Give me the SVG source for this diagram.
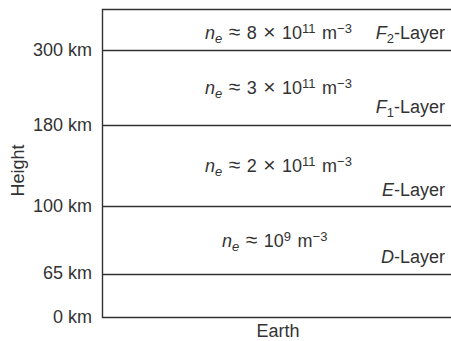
<svg xmlns="http://www.w3.org/2000/svg" width="451" height="341" viewBox="0 0 451 341">
<style>
text{font-family:"Liberation Sans",Arial,sans-serif;font-size:18px;fill:#333}
.tick{text-anchor:end}
.layer{text-anchor:end}
.i{font-style:italic}
.s{font-size:13px}
.op{font-size:21px}
.ne{word-spacing:1.5px}
.ln{stroke:#333;stroke-width:1.4;fill:none}
</style>
<rect width="451" height="341" fill="#fff"/>
<g id="axes">
<path class="ln" d="M451 9.5H102.5V317.5H451"/>
<text x="278" y="337" text-anchor="middle">Earth</text>
<text transform="translate(24,170.5) rotate(-90)" text-anchor="middle">Height</text>
</g>
<g id="boundaries">
<line class="ln" x1="102" y1="50.5" x2="451" y2="50.5" stroke-width="2"/>
<line class="ln" x1="102" y1="125.5" x2="451" y2="125.5"/>
<line class="ln" x1="102" y1="206.5" x2="451" y2="206.5"/>
<line class="ln" x1="102" y1="274.5" x2="451" y2="274.5"/>
</g>
<g id="ticks">
<text class="tick" x="92" y="56">300 km</text>
<text class="tick" x="92" y="131">180 km</text>
<text class="tick" x="92" y="212">100 km</text>
<text class="tick" x="92" y="279">65 km</text>
<text class="tick" x="92" y="323">0 km</text>
</g>
<g id="F2-layer">
<text class="ne" x="205" y="39"><tspan class="i">n</tspan><tspan class="i s" dy="4">e</tspan><tspan dy="-4"> </tspan><tspan class="op">≈</tspan> 8 <tspan class="op">×</tspan> 10<tspan class="s" dy="-6">11</tspan><tspan dy="6"> m</tspan><tspan class="s" dy="-6">−3</tspan></text>
<text class="layer" x="445" y="39"><tspan class="i">F</tspan><tspan class="s" dy="4">2</tspan><tspan dy="-4">-Layer</tspan></text>
</g>
<g id="F1-layer">
<text class="ne" x="205" y="94"><tspan class="i">n</tspan><tspan class="i s" dy="4">e</tspan><tspan dy="-4"> </tspan><tspan class="op">≈</tspan> 3 <tspan class="op">×</tspan> 10<tspan class="s" dy="-6">11</tspan><tspan dy="6"> m</tspan><tspan class="s" dy="-6">−3</tspan></text>
<text class="layer" x="445" y="113"><tspan class="i">F</tspan><tspan class="s" dy="4">1</tspan><tspan dy="-4">-Layer</tspan></text>
</g>
<g id="E-layer">
<text class="ne" x="205" y="172"><tspan class="i">n</tspan><tspan class="i s" dy="4">e</tspan><tspan dy="-4"> </tspan><tspan class="op">≈</tspan> 2 <tspan class="op">×</tspan> 10<tspan class="s" dy="-6">11</tspan><tspan dy="6"> m</tspan><tspan class="s" dy="-6">−3</tspan></text>
<text class="layer" x="445" y="196"><tspan class="i">E</tspan>-Layer</text>
</g>
<g id="D-layer">
<text class="ne" x="222" y="247"><tspan class="i">n</tspan><tspan class="i s" dy="4">e</tspan><tspan dy="-4"> </tspan><tspan class="op">≈</tspan> 10<tspan class="s" dy="-6">9</tspan><tspan dy="6"> m</tspan><tspan class="s" dy="-6">−3</tspan></text>
<text class="layer" x="445" y="263"><tspan class="i">D</tspan>-Layer</text>
</g>
</svg>
